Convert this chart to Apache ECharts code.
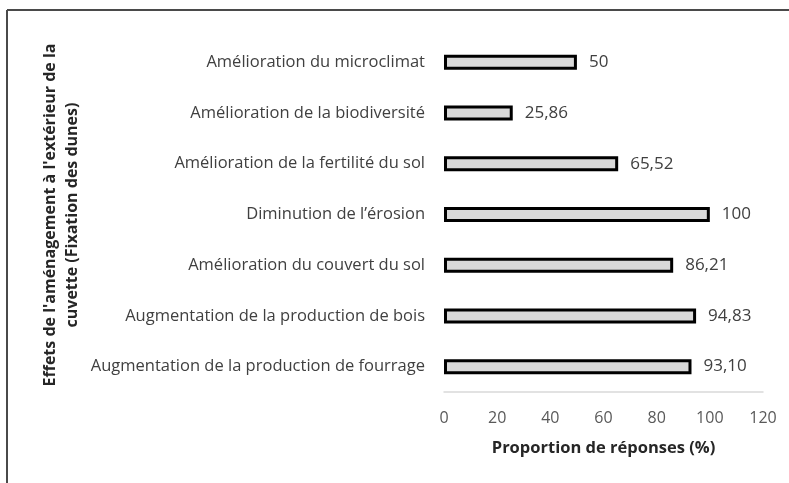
<!DOCTYPE html>
<html>
<head>
<meta charset="utf-8">
<script src="https://cdn.jsdelivr.net/npm/echarts@6/dist/echarts.min.js"></script>
<style>
html,body{margin:0;padding:0;background:#fff;}
#c{width:789px;height:483px;}
</style>
</head>
<body>
<div id="c"></div>
<script>
const categories = [
  "Amélioration du microclimat",
  "Amélioration de la biodiversité",
  "Amélioration de la fertilité du sol",
  "Diminution de l’érosion",
  "Amélioration du couvert du sol",
  "Augmentation de la production de bois",
  "Augmentation de la production de fourrage"
];
const values = [50, 25.86, 65.52, 100, 86.21, 94.83, 93.10];
const xTicks = { min: 0, max: 120, interval: 20 };
const yTitle = "Effets de l'aménagement à l'extérieur de la\ncuvette (Fixation des dunes)";
const xTitle = "Proportion de réponses (%)";

function fmt(v) {
  if (Number.isInteger(v)) return String(v);
  return v.toFixed(2).replace('.', ',');
}

const chart = echarts.init(document.getElementById('c'));
const FONT = "'Open Sans', sans-serif";
chart.setOption({
  animation: false,
  backgroundColor: '#ffffff',
  textStyle: { fontFamily: FONT },
  grid: { left: 444, right: 26, top: 37, bottom: 91 },
  graphic: [
    { type: 'line', shape: { x1: 7, y1: 10, x2: 789, y2: 10 }, style: { stroke: '#4a4a4a', lineWidth: 2 } },
    { type: 'line', shape: { x1: 7, y1: 10, x2: 7, y2: 483 }, style: { stroke: '#4a4a4a', lineWidth: 2 } },
    { type: 'text', x: 61, y: 215, rotation: Math.PI / 2,
      style: { text: yTitle, font: "bold 16px 'Open Sans', sans-serif", fill: '#262626',
               align: 'center', verticalAlign: 'middle', lineHeight: 22 } }
  ],
  xAxis: {
    type: 'value',
    min: xTicks.min, max: xTicks.max, interval: xTicks.interval,
    axisLine: { show: true, lineStyle: { color: '#d9d9d9', width: 1.5 } },
    axisTick: { show: false },
    splitLine: { show: false },
    axisLabel: { color: '#595959', fontSize: 16, margin: 18, fontFamily: FONT },
    name: xTitle,
    nameLocation: 'middle',
    nameGap: 48,
    nameTextStyle: { color: '#262626', fontSize: 16.5, fontWeight: 'bold', fontFamily: FONT }
  },
  yAxis: {
    type: 'category',
    data: categories,
    inverse: true,
    axisLine: { show: false },
    axisTick: { show: false },
    axisLabel: { color: '#404040', fontSize: 16.5, margin: 19, fontFamily: FONT }
  },
  series: [{
    type: 'bar',
    data: values,
    barWidth: 15,
    itemStyle: { color: '#d9d9d9', borderColor: '#000', borderWidth: 3 },
    label: {
      show: true, position: 'right', distance: 12,
      color: '#404040', fontSize: 17, fontFamily: FONT,
      formatter: p => fmt(p.value)
    }
  }]
});
</script>
</body>
</html>
